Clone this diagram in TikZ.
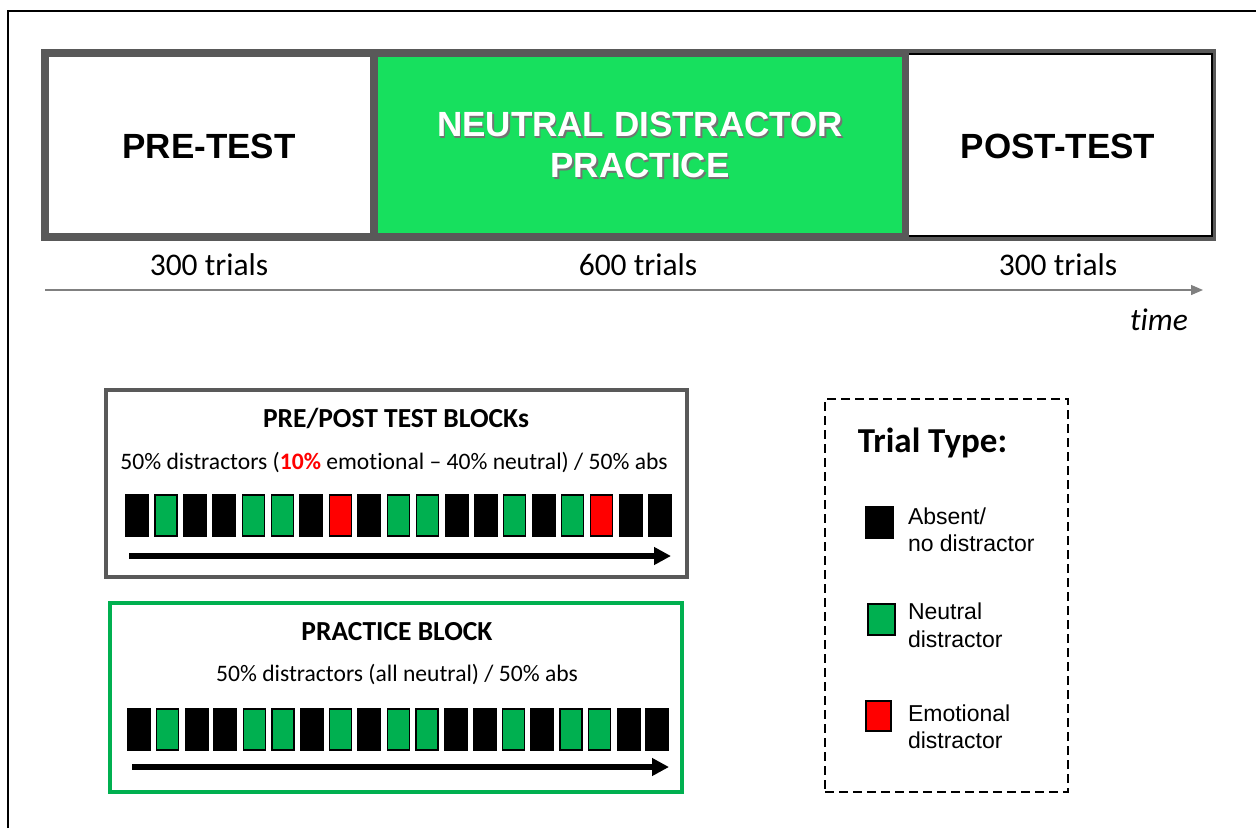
\documentclass[tikz,border=0pt]{standalone}
\usepackage{fontspec}
\setmainfont{Carlito}[Ligatures={TeX,NoCommon}]
\newfontfamily\arialf{Liberation Sans}
\usetikzlibrary{arrows.meta}
\definecolor{barGray}{RGB}{89,89,89}
\definecolor{axisGray}{RGB}{128,128,128}
\definecolor{brightGreen}{RGB}{23,224,94}
\definecolor{sqGreen}{RGB}{0,176,80}
\definecolor{sqRed}{RGB}{255,0,0}
\begin{document}
\begin{tikzpicture}[x=1pt,y=-1pt,
  plain/.style={inner sep=0pt,outer sep=0pt},
  phase/.style={plain,font=\arialf\bfseries\fontsize{35}{41}\selectfont,align=center},
  trials/.style={plain,font=\fontsize{31.5}{35}\selectfont},
  btitle/.style={plain,font=\bfseries\fontsize{27.5}{31}\selectfont},
  bsub/.style={plain,font=\fontsize{23.6}{27}\selectfont},
  sqk/.style={plain,fill=black,minimum width=24,minimum height=43},
  sqg/.style={plain,fill=sqGreen,draw=black,line width=1.2,minimum width=22,minimum height=41},
  sqr/.style={plain,fill=sqRed,draw=black,line width=1.2,minimum width=22,minimum height=41},
  blockarrow/.style={line width=5.5,-{Triangle[length=17pt,width=17pt]}},
  legtext/.style={plain,anchor=west,align=left,font=\arialf\fontsize{23}{27.5}\selectfont},
]
\useasboundingbox (0,0) rectangle (1256,828);
\fill[white] (0,0) rectangle (1256,828);
% outer frame (partially visible)
\coordinate (fbl) at (8,828);
\coordinate (ftl) at (8,11);
\coordinate (ftr) at (1256,11);
\draw[black,line width=2] (fbl) -- (ftl) -- (ftr);

% top bar
\node[plain,fill=barGray,minimum width=1175,minimum height=192] (bar) at (628.5,145) {};
\node[plain,fill=white,minimum width=321,minimum height=176] (pre) at (209.5,145) {};
\node[phase] (pretxt) at (209,146) {PRE-TEST};
\node[plain,fill=brightGreen,minimum width=524,minimum height=176] (mid) at (640,145) {};
\node[phase,text=black!55] (midshadow) at (641.5,146.5) {NEUTRAL DISTRACTOR\\PRACTICE};
\node[phase,text=white] (midtxt) at (640,145) {NEUTRAL DISTRACTOR\\PRACTICE};
\node[plain,fill=white,minimum width=303,minimum height=182] (post) at (1060.5,145) {};
\draw[black,line width=2.5] (post.north west) -- (post.north east) -- (post.south east) -- (post.south west);
\node[phase] (posttxt) at (1058,146) {POST-TEST};

% trial counts and time axis
\node[trials] (t1) at (209,265) {300 trials};
\node[trials] (t2) at (638,265) {600 trials};
\node[trials] (t3) at (1058,265) {300 trials};
\coordinate (ta) at (45,290);
\coordinate (tb) at (1203,290);
\draw[axisGray,line width=1.3,-{Triangle[length=12pt,width=10pt]}] (ta) -- (tb);
\node[trials,font=\itshape\fontsize{31.5}{35}\selectfont] (time) at (1159,320) {time};

% pre/post test block
\node[draw=barGray,line width=4,minimum width=581,minimum height=187,plain] (ppbox) at (396.5,483.5) {};
\node[btitle] (pptitle) at (396,418) {PRE/POST TEST BLOCKs};
\node[bsub] (ppsub) at (394,462) {50\% distractors (\textcolor{sqRed}{\textbf{10\%}} emotional -- 40\% neutral) / 50\% abs};
\foreach \c [count=\i] in {k,g,k,k,g,g,k,r,k,g,g,k,k,g,k,g,r,k,k}
  \node[sq\c] (pp\i) at ({137+(\i-1)*29.05},515.5) {};
\coordinate (ppa0) at (129,556);
\coordinate (ppa1) at (671,556);
\draw[blockarrow] (ppa0) -- (ppa1);

% practice block
\node[draw=sqGreen,line width=4,minimum width=572,minimum height=189,plain] (prbox) at (396,697.5) {};
\node[btitle] (prtitle) at (397,632) {PRACTICE BLOCK};
\node[bsub] (prsub) at (397,674) {50\% distractors (all neutral) / 50\% abs};
\foreach \c [count=\i] in {k,g,k,k,g,g,k,g,k,g,g,k,k,g,k,g,g,k,k}
  \node[sq\c] (pr\i) at ({139+(\i-1)*28.8},729.5) {};
\coordinate (pra0) at (132,767);
\coordinate (pra1) at (669,767);
\draw[blockarrow] (pra0) -- (pra1);

% legend
\node[plain,draw=black,line width=1.3,dash pattern=on 9pt off 5pt,minimum width=243,minimum height=393] (leg) at (946.5,595.5) {};
\node[plain,font=\bfseries\fontsize{35}{39}\selectfont] (legtitle) at (932.5,443) {Trial Type:};
\node[plain,fill=black,minimum width=29,minimum height=33] (lk) at (879.5,522.5) {};
\node[plain,fill=sqGreen,draw=black,line width=1.5,minimum width=27,minimum height=31] (lg) at (881.5,619.5) {};
\node[plain,fill=sqRed,draw=black,line width=1.5,minimum width=25,minimum height=30] (lr) at (878.5,716) {};
\node[legtext] (lkt) at (908,530) {Absent/\\no distractor};
\node[legtext] (lgt) at (908,625.5) {Neutral\\distractor};
\node[legtext] (lrt) at (908,727) {Emotional\\distractor};
\end{tikzpicture}
\end{document}
